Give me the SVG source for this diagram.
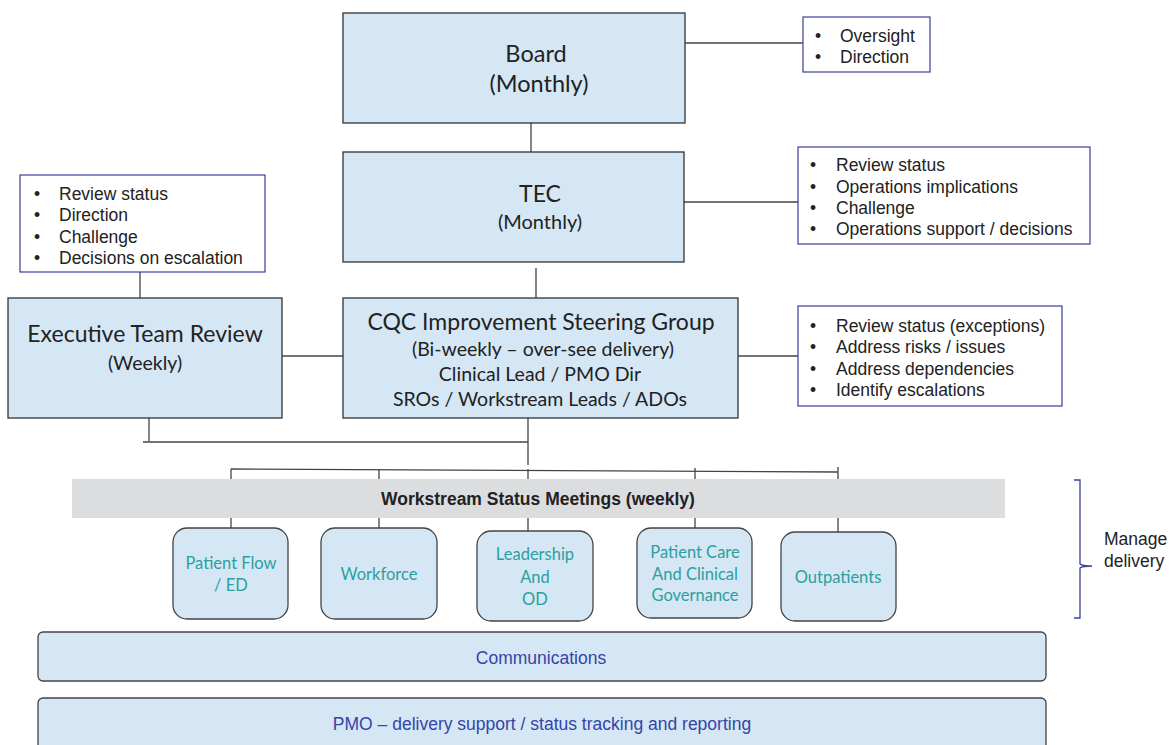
<svg xmlns="http://www.w3.org/2000/svg" width="1170" height="745" viewBox="0 0 1170 745">
  <style>
    .box { fill: #d5e7f5; stroke: #333; stroke-width: 1.3; }
    .ws { fill: #d5e7f5; stroke: #444; stroke-width: 1.3; }
    .note { fill: #fff; stroke: #3a3f9a; stroke-width: 1.2; }
    .ln { stroke: #444; stroke-width: 1.3; fill: none; }
    .t { font-family: Lato, "Open Sans", sans-serif; fill: #222; text-anchor: middle; }
    .l { font-family: "Liberation Sans", Arial, sans-serif; font-size: 17.5px; fill: #222; }
    .wt { font-family: Lato, "Open Sans", sans-serif; font-size: 16.5px; fill: #2aa0a0; text-anchor: middle; }
    .bt { font-family: "Liberation Sans", Arial, sans-serif; font-size: 17.5px; fill: #3444a8; text-anchor: middle; }
  </style>
  <rect width="1170" height="745" fill="#fff"/>

  <g id="connectors">
    <line class="ln" x1="685" y1="43" x2="803" y2="43"/>
    <line class="ln" x1="531" y1="123" x2="531" y2="152"/>
    <line class="ln" x1="684" y1="202" x2="798" y2="202"/>
    <line class="ln" x1="536" y1="268" x2="536" y2="298"/>
    <line class="ln" x1="140" y1="272" x2="140" y2="298"/>
    <line class="ln" x1="282" y1="356" x2="343" y2="356"/>
    <line class="ln" x1="738" y1="356" x2="798" y2="356"/>
    <line class="ln" x1="149" y1="418" x2="149" y2="441"/>
    <line class="ln" x1="143" y1="442" x2="528" y2="442"/>
    <line class="ln" x1="528" y1="418" x2="528" y2="465"/>
    <line class="ln" x1="231" y1="469" x2="838" y2="472"/>
    <line class="ln" x1="231" y1="469" x2="231" y2="479"/>
    <line class="ln" x1="379" y1="469" x2="379" y2="479"/>
    <line class="ln" x1="528" y1="469" x2="528" y2="479"/>
    <line class="ln" x1="695" y1="468" x2="695" y2="479"/>
    <line class="ln" x1="838" y1="467" x2="838" y2="479"/>
    <line class="ln" x1="231" y1="518" x2="231" y2="528"/>
    <line class="ln" x1="379" y1="518" x2="379" y2="528"/>
    <line class="ln" x1="528" y1="518" x2="528" y2="531"/>
    <line class="ln" x1="695" y1="518" x2="695" y2="528"/>
    <line class="ln" x1="838" y1="518" x2="838" y2="532"/>
    <!-- curly brace around the workstream level -->
    <path d="M1074 480 H1080 V564 Q1082 566 1092 566 Q1082 566 1080 568 V618 H1074" fill="none" stroke="#3a3f9a" stroke-width="1.3"/>
  </g>

  <g id="board">
    <rect class="box" x="343" y="13" width="342" height="110"/>
    <text class="t" x="536" y="62" font-size="23.5">Board</text>
    <text class="t" x="539" y="92" font-size="23.5">(Monthly)</text>
  </g>

  <g id="board-notes">
    <rect class="note" x="803" y="17" width="127" height="55"/>
    <text class="l" x="815" y="42">•</text><text class="l" x="840" y="42">Oversight</text>
    <text class="l" x="815" y="63">•</text><text class="l" x="840" y="63">Direction</text>
  </g>

  <g id="tec">
    <rect class="box" x="343" y="152" width="341" height="110"/>
    <text class="t" x="540" y="202" font-size="23">TEC</text>
    <text class="t" x="540" y="229" font-size="20">(Monthly)</text>
  </g>

  <g id="tec-notes">
    <rect class="note" x="798" y="147" width="292" height="97"/>
    <text class="l" x="810" y="171">•</text><text class="l" x="836" y="171">Review status</text>
    <text class="l" x="810" y="193">•</text><text class="l" x="836" y="193">Operations implications</text>
    <text class="l" x="810" y="214">•</text><text class="l" x="836" y="214">Challenge</text>
    <text class="l" x="810" y="235">•</text><text class="l" x="836" y="235">Operations support / decisions</text>
  </g>

  <g id="etr-notes">
    <rect class="note" x="20" y="175" width="245" height="97"/>
    <text class="l" x="34" y="200">•</text><text class="l" x="59" y="200">Review status</text>
    <text class="l" x="34" y="221">•</text><text class="l" x="59" y="221">Direction</text>
    <text class="l" x="34" y="243">•</text><text class="l" x="59" y="243">Challenge</text>
    <text class="l" x="34" y="264">•</text><text class="l" x="59" y="264">Decisions on escalation</text>
  </g>

  <g id="executive-team-review">
    <rect class="box" x="8" y="298" width="274" height="120"/>
    <text class="t" x="145" y="342" font-size="23">Executive Team Review</text>
    <text class="t" x="145" y="370" font-size="19.5">(Weekly)</text>
  </g>

  <g id="steering-group">
    <rect class="box" x="343" y="298" width="395" height="120"/>
    <text class="t" x="541" y="330" font-size="23">CQC Improvement Steering Group</text>
    <text class="t" x="543" y="356" font-size="19.5">(Bi-weekly – over-see delivery)</text>
    <text class="t" x="540" y="381" font-size="19.5">Clinical Lead / PMO Dir</text>
    <text class="t" x="540" y="406" font-size="19.5">SROs / Workstream Leads / ADOs</text>
  </g>

  <g id="steering-notes">
    <rect class="note" x="798" y="306" width="264" height="100"/>
    <text class="l" x="810" y="332">•</text><text class="l" x="836" y="332">Review status (exceptions)</text>
    <text class="l" x="810" y="353">•</text><text class="l" x="836" y="353">Address risks / issues</text>
    <text class="l" x="810" y="375">•</text><text class="l" x="836" y="375">Address dependencies</text>
    <text class="l" x="810" y="396">•</text><text class="l" x="836" y="396">Identify escalations</text>
  </g>

  <g id="workstream-meetings">
    <rect x="72" y="479" width="933" height="39" fill="#dcdddf"/>
    <text x="538" y="505" font-family="'Liberation Sans', Arial, sans-serif" font-size="17.5" font-weight="bold" fill="#222" text-anchor="middle">Workstream Status Meetings (weekly)</text>
  </g>

  <g id="patient-flow">
    <rect class="ws" x="173" y="528" width="115" height="91" rx="14"/>
    <text class="wt" x="231" y="569">Patient Flow</text>
    <text class="wt" x="231" y="591">/ ED</text>
  </g>
  <g id="workforce">
    <rect class="ws" x="321" y="528" width="116" height="91" rx="14"/>
    <text class="wt" x="379" y="580">Workforce</text>
  </g>
  <g id="leadership">
    <rect class="ws" x="477" y="531" width="116" height="90" rx="14"/>
    <text class="wt" x="535" y="560">Leadership</text>
    <text class="wt" x="535" y="583">And</text>
    <text class="wt" x="535" y="605">OD</text>
  </g>
  <g id="patient-care">
    <rect class="ws" x="637" y="528" width="115" height="90" rx="14"/>
    <text class="wt" x="695" y="558">Patient Care</text>
    <text class="wt" x="695" y="580">And Clinical</text>
    <text class="wt" x="695" y="601">Governance</text>
  </g>
  <g id="outpatients">
    <rect class="ws" x="781" y="532" width="115" height="89" rx="14"/>
    <text class="wt" x="838" y="583">Outpatients</text>
  </g>

  <g id="manage-delivery">
    <text class="l" x="1104" y="545" font-size="16">Manage</text>
    <text class="l" x="1104" y="567" font-size="16">delivery</text>
  </g>

  <g id="communications">
    <rect class="ws" x="38" y="632" width="1008" height="49" rx="5"/>
    <text class="bt" x="541" y="664">Communications</text>
  </g>

  <g id="pmo">
    <rect class="ws" x="38" y="698" width="1008" height="60" rx="5"/>
    <text class="bt" x="542" y="730">PMO – delivery support / status tracking and reporting</text>
  </g>
</svg>
